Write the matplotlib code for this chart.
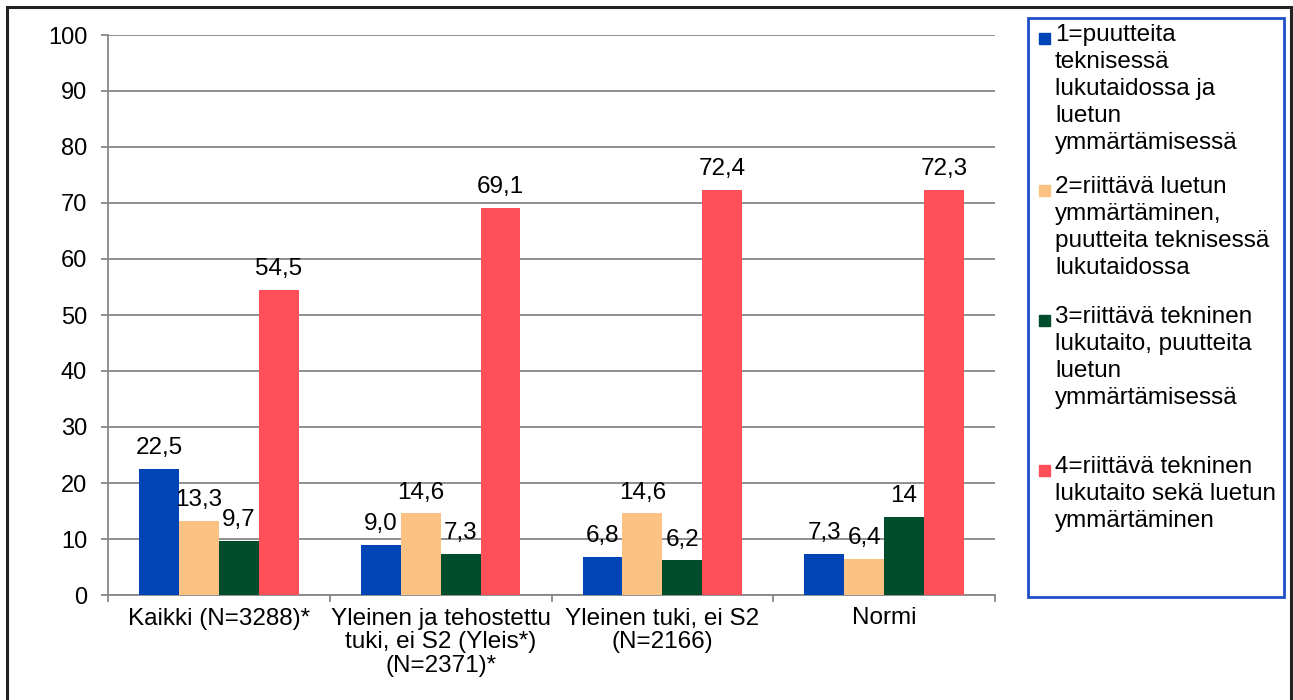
import numpy as np
import matplotlib.pyplot as plt
from matplotlib.patches import Rectangle

plt.rcParams['font.family'] = ['Liberation Sans', 'DejaVu Sans']

# --- Data ---
groups = [
    'Kaikki (N=3288)*',
    'Yleinen ja tehostettu\ntuki, ei S2 (Yleis*)\n(N=2371)*',
    'Yleinen tuki, ei S2\n(N=2166)',
    'Normi',
]
series_names = [
    '1=puutteita\nteknisessä\nlukutaidossa ja\nluetun\nymmärtämisessä',
    '2=riittävä luetun\nymmärtäminen,\npuutteita teknisessä\nlukutaidossa',
    '3=riittävä tekninen\nlukutaito, puutteita\nluetun\nymmärtämisessä',
    '4=riittävä tekninen\nlukutaito sekä luetun\nymmärtäminen',
]
s1 = [22.5, 9.0, 6.8, 7.3]
s2 = [13.3, 14.6, 14.6, 6.4]
s3 = [9.7, 7.3, 6.2, 14]
s4 = [54.5, 69.1, 72.4, 72.3]
s1_labels = ['22,5', '9,0', '6,8', '7,3']
s2_labels = ['13,3', '14,6', '14,6', '6,4']
s3_labels = ['9,7', '7,3', '6,2', '14']
s4_labels = ['54,5', '69,1', '72,4', '72,3']
colors = ['#0044b5', '#fbc283', '#004d2e', '#ff4f58']

series = [s1, s2, s3, s4]
labels = [s1_labels, s2_labels, s3_labels, s4_labels]

FS = 17.5

# --- Figure ---
W, H = 1293, 700
fig = plt.figure(figsize=(W / 100, H / 100), dpi=100)
ax = fig.add_axes([108 / W, 1 - 595 / H, (995 - 108) / W, (595 - 35) / H])

grid_col = '#878787'
x = np.arange(len(groups))
bw = 0.18
for i, (vals, lab, col) in enumerate(zip(series, labels, colors)):
    pos = x + (i - 1.5) * bw
    bars = ax.bar(pos, vals, width=bw, color=col, zorder=3)
    for b, t in zip(bars, lab):
        ax.annotate(t, (b.get_x() + b.get_width() / 2, b.get_height()),
                    xytext=(0, 7), textcoords='offset points',
                    ha='center', va='bottom', fontsize=FS, zorder=4)

ax.set_xlim(-0.5, len(groups) - 0.5)
ax.set_ylim(0, 100)
ax.set_yticks(range(0, 101, 10))
ax.yaxis.grid(True, color=grid_col, linewidth=1.3, zorder=0)

ax.set_xticks(x)
ax.set_xticklabels(groups, fontsize=FS, linespacing=1.1)
ax.tick_params(axis='x', length=0, pad=9)
ax.set_xticks(np.arange(-0.5, len(groups), 1), minor=True)
ax.tick_params(axis='x', which='minor', length=5, color=grid_col, width=1.3)
ax.tick_params(axis='y', length=5, color=grid_col, width=1.3, pad=10,
               labelsize=17)

for side in ['top', 'right']:
    ax.spines[side].set_visible(False)
for side in ['left', 'bottom']:
    ax.spines[side].set_color(grid_col)
    ax.spines[side].set_linewidth(1.3)

# --- Legend (drawn by hand so handles sit on the first line) ---
fig.patches.append(Rectangle((1028 / W, 1 - 597 / H), (1284 - 1028) / W,
                             (597 - 18) / H, transform=fig.transFigure,
                             fill=False, edgecolor='#1f4fc8', linewidth=2))
line_mid = [38, 190, 320, 470]
for name, col, mid in zip(series_names, colors, line_mid):
    fig.patches.append(Rectangle((1039 / W, 1 - (mid + 6) / H), 11 / W, 11 / H,
                                 transform=fig.transFigure, color=col))
    fig.text(1055 / W, 1 - (mid - 14) / H, name, fontsize=FS, va='top',
             ha='left', linespacing=1.3)

# outer frame
fig.patches.append(Rectangle((7 / W, -0.02), (1291 - 7) / W, 1 - 7 / H + 0.02,
                             transform=fig.transFigure, fill=False,
                             edgecolor='#222222', linewidth=2.2, clip_on=False))

fig.savefig('out.png', dpi=100)
